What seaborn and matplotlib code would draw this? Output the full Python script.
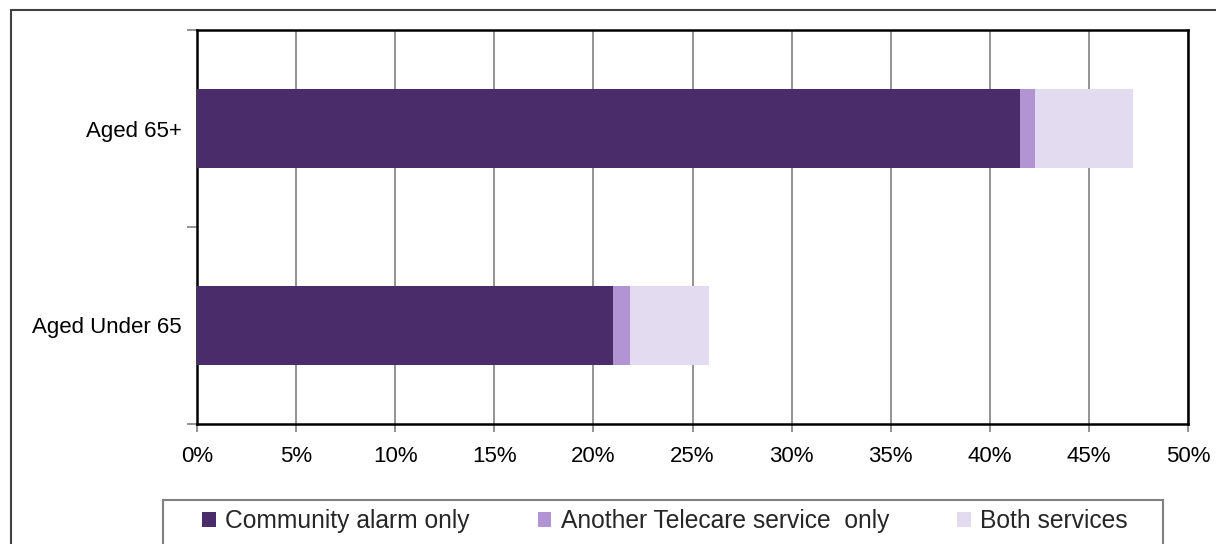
import matplotlib
matplotlib.use("Agg")
import matplotlib.pyplot as plt
from matplotlib.patches import Patch, Rectangle
from matplotlib.ticker import FuncFormatter, FixedLocator
import pandas as pd
import seaborn as sns

# Data (percent of respondents)
groups = ["Aged 65+", "Aged Under 65"]
series_names = ["Community alarm only", "Another Telecare service  only", "Both services"]
alarm_only = [41.5, 21.0]
other_only = [0.8, 0.85]
both = [4.9, 4.0]
colors = ["#4B2C6B", "#B294D4", "#E3DBF0"]

df = pd.DataFrame({"group": groups, "alarm": alarm_only, "other": other_only, "both": both})
df["cum1"] = df["alarm"]
df["cum2"] = df["cum1"] + df["other"]
df["cum3"] = df["cum2"] + df["both"]

sns.set_theme(style="white")
plt.rcParams["font.family"] = ["Liberation Sans", "DejaVu Sans"]

fig = plt.figure(figsize=(12.16, 5.44), dpi=100)
W, H = 1216, 544
ax = fig.add_axes([197 / W, 1 - 424 / H, (1188 - 197) / W, (424 - 30) / H])

# stacked bars: draw cumulative totals from the back to the front
for col, c in zip(["cum3", "cum2", "cum1"], colors[::-1]):
    sns.barplot(data=df, x=col, y="group", order=groups, color=c, width=0.4,
                saturation=1, ax=ax, zorder=3)
for p in ax.patches:
    p.set_edgecolor("none")

ax.set_xlim(0, 50)
ax.set_ylim(1.5, -0.5)
ax.set_xticks(range(0, 51, 5))
ax.xaxis.set_major_formatter(FuncFormatter(lambda v, _: f"{v:.0f}%"))
ax.set_xlabel("")
ax.set_ylabel("")
ax.grid(axis="x", color="#808080", lw=1.2, zorder=0)
ax.set_axisbelow(True)

ax.yaxis.set_minor_locator(FixedLocator([-0.5, 0.5, 1.5]))
ax.tick_params(axis="y", which="major", length=0, labelsize=16, pad=11, colors="black")
ax.tick_params(axis="y", which="minor", length=7, width=1.2, color="#808080", left=True)
ax.tick_params(axis="x", which="major", length=6, width=1.2, color="#808080",
               labelsize=16, pad=10, labelcolor="black", bottom=True)

for s in ax.spines.values():
    s.set_color("black")
    s.set_linewidth(1.8)

# legend with its own box, cut off at the bottom like the reference
handles = [Patch(facecolor=c, edgecolor="none", label=n) for c, n in zip(colors, series_names)]
fig.legend(handles=handles, loc="center left", bbox_to_anchor=(202 / W, 1 - 521 / H),
           ncol=3, frameon=False, fontsize=17.7, handlelength=0.55, handleheight=0.6,
           handletextpad=0.4, columnspacing=2.75, borderaxespad=0, borderpad=0)
fig.patches.append(Rectangle((163 / W, -0.1), 1000 / W, (1 - 500 / H) + 0.1,
                             transform=fig.transFigure, fill=False,
                             edgecolor="#808080", lw=1.5))

# outer chart frame
fig.patches.append(Rectangle((11 / W, -0.1), 1.2, (1 - 10 / H) + 0.1,
                             transform=fig.transFigure, fill=False,
                             edgecolor="#404040", lw=1.5))

fig.savefig("out.png", dpi=100)
